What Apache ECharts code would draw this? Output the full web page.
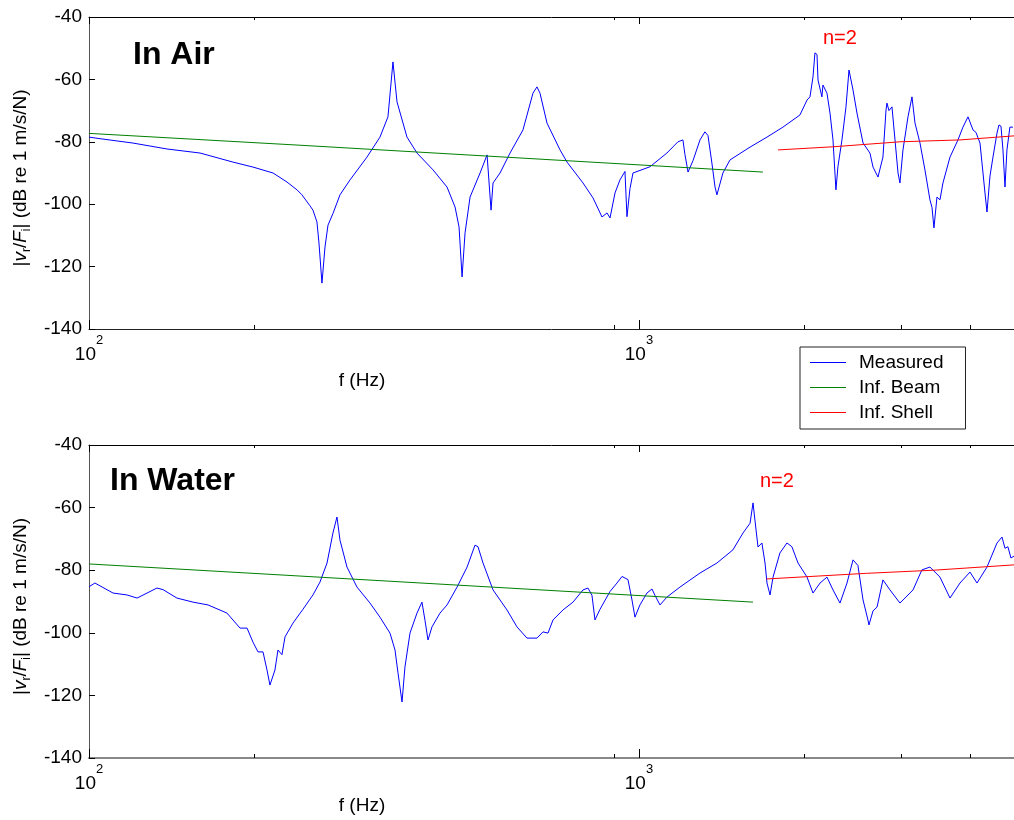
<!DOCTYPE html>
<html>
<head>
<meta charset="utf-8">
<script src="https://cdn.jsdelivr.net/npm/echarts@6/dist/echarts.min.js"></script>
<style>
  html, body { margin: 0; padding: 0; background: #fff; }
  #main { width: 1014px; height: 820px; }
</style>
</head>
<body>
<div id="main"></div>
<script>
// ---- data (f in Hz, level in dB re 1 m/s/N) ----
var airFreq = [
    100, 104.7, 120.2, 138.6, 159.2, 182.7, 198.7, 216.1, 229.1, 238.9,
    243.9, 252.2, 255.4, 259.7, 261.9, 265.2, 268.6, 272.0, 277.7, 286.0,
    298.3, 320.2, 338.1, 349.6, 357.0, 363.1, 378.6, 394.8, 422.2, 447.7,
    463.0, 470.8, 476.8, 482.8, 493.0, 514.1, 529.4, 533.8, 538.3, 542.8,
    558.9, 582.8, 615.3, 641.6, 652.4, 660.7, 680.4, 718.5, 739.9, 791.1,
    825.0, 856.6, 874.7, 885.8, 904.5, 923.6, 943.0, 951.0, 963.0, 975.2,
    1047, 1124, 1177, 1202, 1212, 1228, 1254, 1291, 1318, 1335,
    1357, 1375, 1386, 1421, 1464, 1592, 1709, 1827, 1962, 2021,
    2046, 2072, 2089, 2107, 2116, 2151, 2160, 2197, 2225, 2253,
    2281, 2300, 2339, 2379, 2409, 2450, 2491, 2555, 2630, 2664,
    2720, 2777, 2813, 2824, 2848, 2884, 2921, 2958, 2982, 3020,
    3084, 3136, 3176, 3243, 3311, 3381, 3410, 3438, 3482, 3526,
    3570, 3677, 3802, 3882, 3965, 4049, 4100, 4169, 4222, 4257,
    4293, 4347, 4402, 4477, 4514, 4552, 4590, 4629, 4667, 4725, 4786
];
var airMeasured = [
    -78.5, -79.0, -80.4, -82.3, -83.6, -86.5, -88.1, -90.0, -92.9, -95.4,
    -97.0, -100.5, -101.9, -105.7, -112.4, -125.3, -113.7, -106.7, -103.0, -97.0,
    -92.2, -84.9, -78.5, -72.0, -54.4, -67.2, -78.5, -83.6, -89.0, -94.5,
    -100.9, -107.3, -123.3, -109.2, -97.7, -90.0, -84.2, -84.5, -101.9, -93.2,
    -90.0, -83.6, -76.2, -64.4, -62.4, -64.4, -74.0, -82.6, -86.5, -93.2,
    -98.0, -104.1, -102.8, -104.4, -96.4, -92.2, -89.5, -104.0, -95.0, -90.0,
    -88.0, -83.6, -80.0, -79.4, -84.0, -89.7, -86.0, -79.4, -76.8, -78.0,
    -86.8, -94.5, -97.0, -90.0, -85.8, -81.7, -78.5, -75.3, -71.4, -66.6,
    -65.6, -59.2, -51.5, -52.0, -60.2, -65.6, -61.8, -64.4, -70.8, -79.4,
    -95.4, -88.0, -79.4, -68.8, -57.0, -63.4, -70.8, -80.4, -83.6, -88.1,
    -91.3, -84.9, -69.8, -67.6, -70.0, -68.8, -79.4, -90.0, -93.2, -82.6,
    -72.0, -65.6, -74.0, -80.4, -89.0, -98.6, -101.0, -107.6, -97.7, -98.6,
    -93.2, -84.9, -79.4, -75.3, -72.0, -76.2, -77.0, -80.4, -90.0, -96.4,
    -102.5, -91.0, -84.9, -77.2, -74.6, -75.0, -82.6, -94.5, -82.6, -75.3, -75.3
];
var airBeamFreq = [100, 242, 1680];
var airBeamDb = [-77.3, -81.1, -89.7];
var airShellFreq = [1790, 2253, 2982, 3834, 4807];
var airShellDb = [-82.6, -81.6, -80.0, -79.4, -78.1];

var waterFreq = [
    100, 102.5, 110.6, 117.2, 122.3, 127.5, 132.9, 136.3, 144.5, 154.6,
    164.6, 178.2, 182.7, 188.2, 193.8, 198.7, 202.9, 207.2, 210.7, 213.3,
    217.8, 220.6, 224.3, 227.2, 234.9, 244.9, 255.4, 263.0, 270.9, 277.7,
    282.4, 286.0, 294.5, 307.1, 324.3, 338.1, 352.6, 360.1, 364.6, 370.8,
    375.4, 383.4, 394.8, 403.1, 408.2, 413.4, 420.4, 434.7, 447.7, 466.9,
    486.9, 503.3, 509.7, 520.5, 542.8, 575.4, 600.0, 625.7, 652.4, 669.1,
    683.2, 697.7, 727.5, 758.6, 791.1, 807.7, 821.3, 831.8, 849.4, 885.8,
    912.0, 931.4, 955.0, 971.1, 983.4, 1004, 1034, 1056, 1069, 1092,
    1124, 1187, 1291, 1386, 1482, 1546, 1592, 1612, 1625, 1646,
    1673, 1695, 1709, 1731, 1753, 1804, 1858, 1897, 1946, 2021,
    2072, 2134, 2197, 2253, 2320, 2389, 2450, 2501, 2555, 2608,
    2619, 2664, 2709, 2777, 2860, 2982, 3150, 3269, 3381, 3526,
    3677, 3834, 3998, 4117, 4293, 4477, 4571, 4629, 4686, 4746, 4807
];
var waterMeasured = [
    -85.3, -84.1, -87.3, -87.9, -88.9, -87.3, -85.7, -86.2, -88.9, -90.2,
    -91.1, -93.7, -95.9, -98.5, -98.5, -103.0, -106.1, -106.1, -111.9, -116.7,
    -111.9, -105.5, -107.0, -101.3, -96.9, -92.5, -87.9, -83.8, -77.7, -68.1,
    -63.0, -70.4, -79.0, -85.4, -90.5, -95.0, -100.1, -105.5, -112.8, -122.1,
    -110.9, -100.1, -93.7, -90.2, -96.0, -102.3, -98.1, -93.7, -91.1, -85.4,
    -79.0, -72.0, -72.5, -77.7, -86.3, -92.7, -98.1, -101.7, -101.7, -99.7,
    -100.1, -95.9, -92.7, -90.2, -86.3, -85.7, -88.0, -95.9, -92.5, -86.8,
    -84.1, -82.0, -83.0, -89.5, -95.0, -91.1, -87.3, -86.0, -88.0, -91.1,
    -88.6, -85.4, -80.9, -77.7, -73.5, -68.1, -65.0, -58.5, -64.0, -72.6,
    -71.3, -77.7, -84.1, -87.9, -82.2, -74.5, -71.3, -72.5, -77.7, -82.2,
    -87.3, -84.1, -82.2, -86.3, -90.5, -84.1, -76.7, -78.5, -89.5, -95.9,
    -97.5, -93.0, -91.8, -83.1, -86.3, -90.5, -86.3, -79.9, -79.0, -82.2,
    -88.9, -84.1, -80.6, -84.1, -79.0, -71.3, -69.4, -73.0, -72.5, -76.1, -75.5
];
var waterBeamFreq = [100, 222.5, 1612];
var waterBeamDb = [-78.0, -81.5, -90.2];
var waterShellFreq = [1706, 2590, 3438, 4807];
var waterShellDb = [-82.8, -81.0, -80.0, -78.3];

var freqMin = 100;
var freqMax = 4807;   // right edge of the picture (axis runs past it)
var majorTicks = [100, 1000];
var minorTicks = [200, 900, 2000, 3000, 4000];
var seriesNames = ['Measured', 'Inf. Beam', 'Inf. Shell'];
var seriesColors = ['#0000ff', '#008000', '#ff0000'];

var FONT = '"Liberation Sans", Arial, sans-serif';

function zip(f, v) {
    return f.map(function (x, i) { return [x, v[i]]; });
}

function xAxes(g, bottomColor, bottomWidth) {
    var base = {
        gridIndex: g,
        type: 'log',
        logBase: 10,
        min: freqMin,
        max: freqMax,
        splitLine: { show: false }
    };
    return [
        Object.assign({}, base, {
            position: 'bottom',
            axisLine: { show: true, onZero: false, lineStyle: { color: bottomColor, width: bottomWidth } },
            axisTick: { show: true, inside: true, length: 9, customValues: majorTicks, lineStyle: { color: '#000' } },
            axisLabel: {
                show: true,
                margin: 5,
                customValues: majorTicks,
                formatter: function (v) {
                    return '{b|10}{s|' + Math.round(Math.log10(v)) + '}';
                },
                rich: {
                    b: { fontSize: 19, fontFamily: FONT, color: '#000', lineHeight: 30, verticalAlign: 'bottom' },
                    s: { fontSize: 13, fontFamily: FONT, color: '#000', lineHeight: 14, verticalAlign: 'top' }
                }
            }
        }),
        Object.assign({}, base, {
            position: 'bottom',
            axisLine: { show: false },
            axisTick: { show: true, inside: true, length: 4, customValues: minorTicks, lineStyle: { color: '#000' } },
            axisLabel: { show: false }
        }),
        Object.assign({}, base, {
            position: 'top',
            axisLine: { show: true, onZero: false, lineStyle: { color: '#000', width: 1 } },
            axisTick: { show: true, inside: true, length: 7, customValues: majorTicks, lineStyle: { color: '#000' } },
            axisLabel: { show: false }
        }),
        Object.assign({}, base, {
            position: 'top',
            axisLine: { show: false },
            axisTick: { show: true, inside: true, length: 3, customValues: minorTicks, lineStyle: { color: '#000' } },
            axisLabel: { show: false }
        })
    ];
}

function yAxis(g) {
    return {
        gridIndex: g,
        type: 'value',
        min: -140,
        max: -40,
        interval: 20,
        position: 'left',
        axisLine: { show: true, onZero: false, lineStyle: { color: '#555', width: 1 } },
        axisTick: { show: true, inside: true, length: 6, lineStyle: { color: '#000' } },
        axisLabel: { fontSize: 19, fontFamily: FONT, color: '#000', margin: 7 },
        splitLine: { show: false },
        name: '|{i|v}{s|r}/{i|F}{s|i}| (dB re 1 m/s/N)',
        nameLocation: 'middle',
        nameRotate: 90,
        nameGap: 55,
        nameTextStyle: {
            fontSize: 19,
            fontFamily: FONT,
            color: '#000',
            lineHeight: 24,
            padding: [0, 10, 0, 0],
            rich: {
                i: { fontSize: 19, fontFamily: FONT, fontStyle: 'italic', color: '#000', lineHeight: 24 },
                s: { fontSize: 12, fontFamily: FONT, color: '#000', lineHeight: 14, verticalAlign: 'bottom' }
            }
        }
    };
}

function lineSeries(name, color, xIdx, yIdx, data) {
    return {
        name: name,
        type: 'line',
        xAxisIndex: xIdx,
        yAxisIndex: yIdx,
        data: data,
        showSymbol: false,
        symbol: 'none',
        clip: true,
        silent: true,
        lineStyle: { color: color, width: 1 },
        itemStyle: { color: color }
    };
}

function txt(text, x, y, size, color, bold, align) {
    return {
        type: 'text',
        silent: true,
        style: {
            text: text,
            x: x,
            y: y,
            fill: color,
            font: (bold ? 'bold ' : '') + size + 'px ' + FONT,
            align: align || 'left',
            verticalAlign: 'middle'
        }
    };
}

var chart = echarts.init(document.getElementById('main'));
var option = {
    animation: false,
    backgroundColor: '#fff',
    grid: [
        { left: 89, top: 17, right: 0, height: 312, containLabel: false },
        { left: 89, top: 445, right: 0, height: 313, containLabel: false }
    ],
    xAxis: xAxes(0, '#222', 1).concat(xAxes(1, '#888', 2)),
    yAxis: [yAxis(0), yAxis(1)],
    legend: {
        orient: 'vertical',
        left: 800,
        top: 347,
        padding: [6, 22, 7, 10],
        itemGap: 6,
        itemWidth: 36,
        itemHeight: 1,
        icon: 'rect',
        borderColor: '#222',
        borderWidth: 1,
        backgroundColor: '#fff',
        data: seriesNames,
        textStyle: { fontSize: 19, fontFamily: FONT, color: '#000', lineHeight: 19, padding: [0, 0, 0, 8] }
    },
    graphic: [
        txt('In Air', 133, 55, 32, '#000', true),
        txt('In Water', 110, 481, 32, '#000', true),
        txt('n=2', 823, 38, 20, '#ff0000', false),
        txt('n=2', 760, 481, 20, '#ff0000', false),
        txt('f (Hz)', 362, 381, 19, '#000', false, 'center'),
        txt('f (Hz)', 362, 806, 19, '#000', false, 'center')
    ],
    series: [
        lineSeries(seriesNames[0], seriesColors[0], 0, 0, zip(airFreq, airMeasured)),
        lineSeries(seriesNames[1], seriesColors[1], 0, 0, zip(airBeamFreq, airBeamDb)),
        lineSeries(seriesNames[2], seriesColors[2], 0, 0, zip(airShellFreq, airShellDb)),
        lineSeries(seriesNames[0], seriesColors[0], 4, 1, zip(waterFreq, waterMeasured)),
        lineSeries(seriesNames[1], seriesColors[1], 4, 1, zip(waterBeamFreq, waterBeamDb)),
        lineSeries(seriesNames[2], seriesColors[2], 4, 1, zip(waterShellFreq, waterShellDb))
    ]
};
chart.setOption(option);
window.addEventListener('resize', function () {
    chart.resize();
});
</script>
</body>
</html>
